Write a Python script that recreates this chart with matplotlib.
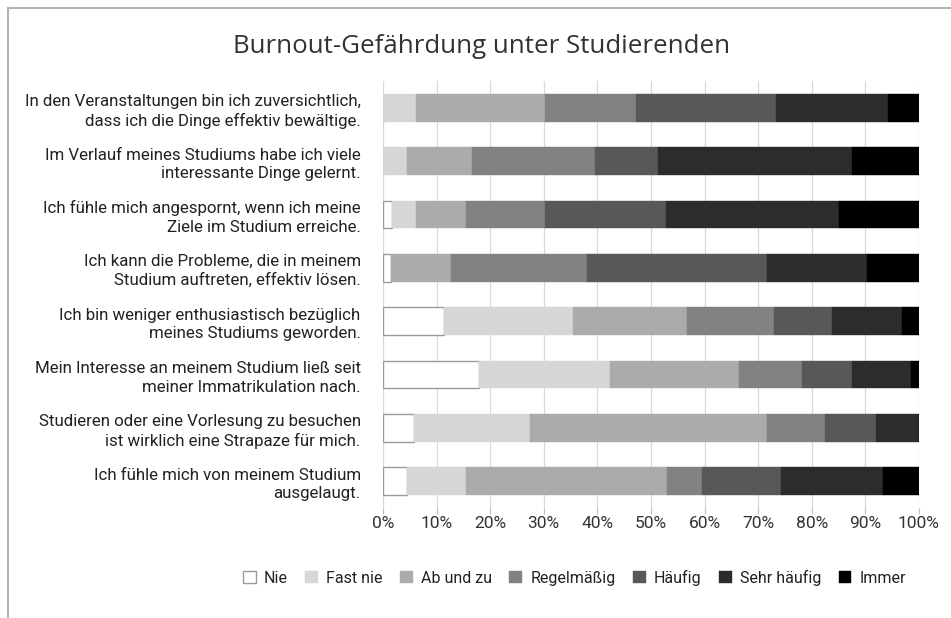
import matplotlib
matplotlib.use('Agg')
import matplotlib.pyplot as plt
from matplotlib.lines import Line2D
from matplotlib import font_manager

# statements (top to bottom)
statements = [
    'In den Veranstaltungen bin ich zuversichtlich,\ndass ich die Dinge effektiv bewältige.',
    'Im Verlauf meines Studiums habe ich viele\ninteressante Dinge gelernt.',
    'Ich fühle mich angespornt, wenn ich meine\nZiele im Studium erreiche.',
    'Ich kann die Probleme, die in meinem\nStudium auftreten, effektiv lösen.',
    'Ich bin weniger enthusiastisch bezüglich\nmeines Studiums geworden.',
    'Mein Interesse an meinem Studium ließ seit\nmeiner Immatrikulation nach.',
    'Studieren oder eine Vorlesung zu besuchen\nist wirklich eine Strapaze für mich.',
    'Ich fühle mich von meinem Studium\nausgelaugt.',
]

levels = ['Nie', 'Fast nie', 'Ab und zu', 'Regelmäßig', 'Häufig', 'Sehr häufig', 'Immer']

# percentages per level, one value per statement (same order as statements)
nie = [0.0, 0.0, 1.7, 1.5, 11.4, 17.9, 5.7, 4.4]
fast_nie = [6.1, 4.5, 4.4, 0.0, 24.0, 24.4, 21.8, 11.0]
ab_und_zu = [24.2, 12.1, 9.3, 11.2, 21.4, 24.1, 44.1, 37.5]
regelmaessig = [17.0, 22.9, 14.9, 25.3, 16.1, 11.8, 10.8, 6.7]
haeufig = [26.0, 11.8, 22.5, 33.7, 10.9, 9.4, 9.5, 14.7]
sehr_haeufig = [21.0, 36.3, 32.2, 18.7, 13.1, 10.9, 8.1, 18.9]
immer = [5.7, 12.4, 15.0, 9.6, 3.1, 1.5, 0.0, 6.8]

xticks = [0, 10, 20, 30, 40, 50, 60, 70, 80, 90, 100]

colors = ['#ffffff', '#d6d6d6', '#ababab', '#828282', '#585858', '#2c2c2c', '#000000']

installed = {f.name for f in font_manager.fontManager.ttflist}
narrow = 'Liberation Sans Narrow' if 'Liberation Sans Narrow' in installed else 'Roboto'
plt.rcParams['font.family'] = [narrow, 'DejaVu Sans']

fig = plt.figure(figsize=(9.51, 6.18), dpi=100)
ax = fig.add_axes([0.4027, 0.178, 0.5636, 0.691])

series = [nie, fast_nie, ab_und_zu, regelmaessig, haeufig, sehr_haeufig, immer]
ypos = list(range(len(statements)))
left = [0.0] * len(statements)
for name, vals, col in zip(levels, series, colors):
    edge = '#9a9a9a' if col == '#ffffff' else col
    ax.barh(ypos, vals, left=left, height=0.52, color=col, edgecolor=edge,
            linewidth=1.0 if col == '#ffffff' else 0.3, zorder=3, label=name)
    left = [l + v for l, v in zip(left, vals)]

ax.set_xlim(0, 100)
ax.set_ylim(len(statements) - 0.5, -0.5)
ax.set_xticks(xticks)
ax.set_xticklabels([f'{t}%' for t in xticks], fontsize=12.5, color='#333333')
ax.set_yticks(ypos)
ax.set_yticklabels(statements, fontsize=12.2, color='#222222', linespacing=1.3)
ax.tick_params(axis='y', length=0, pad=16)
ax.tick_params(axis='x', length=4, color='#bbbbbb', pad=2)
ax.grid(axis='x', color='#d9d9d9', linewidth=0.9, zorder=0)
for s in ax.spines.values():
    s.set_visible(False)

fig.text(0.506, 0.925, 'Burnout-Gefährdung unter Studierenden', ha='center', va='center',
         fontsize=18.6, color='#333333', family=['Open Sans', 'DejaVu Sans'])

leg = fig.legend(loc='center', bbox_to_anchor=(0.604, 0.065), ncol=7, frameon=False,
                 fontsize=11.5, handlelength=0.8, handleheight=0.8, handletextpad=0.5,
                 columnspacing=1.1)
for t in leg.get_texts():
    t.set_color('#222222')

# thin frame of the original picture (top and left edge)
fig.add_artist(Line2D([7.5 / 951, 7.5 / 951], [0, 1 - 8 / 618], transform=fig.transFigure,
                      color='#b5b5b5', linewidth=1.5))
fig.add_artist(Line2D([7.5 / 951, 1], [1 - 8 / 618, 1 - 8 / 618], transform=fig.transFigure,
                      color='#b5b5b5', linewidth=1.5))

fig.savefig('out.png', dpi=100, facecolor='white')
